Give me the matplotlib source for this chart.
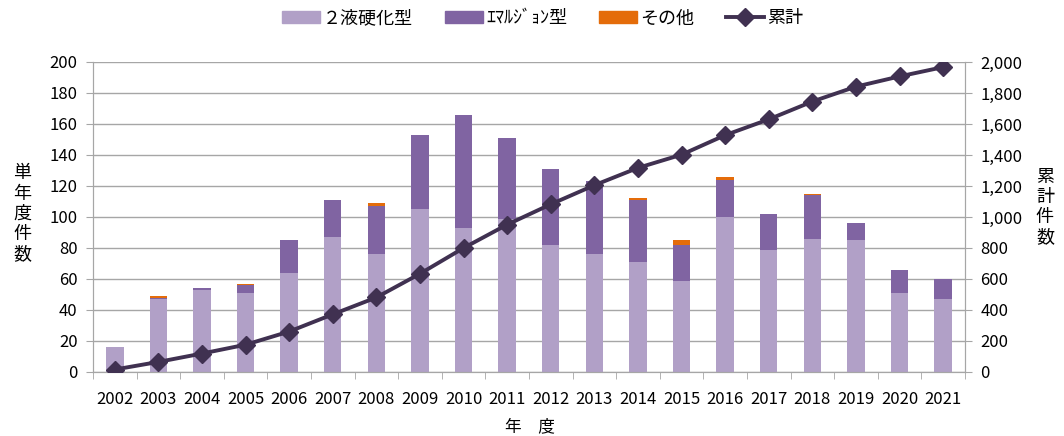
import matplotlib
matplotlib.use("Agg")
import matplotlib.pyplot as plt
from matplotlib.ticker import FuncFormatter, MultipleLocator
from matplotlib.patches import Patch
from matplotlib.lines import Line2D
import numpy as np

plt.rcParams['font.family'] = ['Noto Sans CJK JP', 'DejaVu Sans']

# data
years = [str(y) for y in range(2002, 2022)]
two_part = [16, 47, 53, 51, 64, 87, 76, 105, 93, 99, 82, 76, 71, 59, 100, 79, 86, 85, 51, 47]
emulsion = [0, 1, 1, 5, 21, 24, 31, 48, 73, 52, 49, 47, 40, 23, 24, 23, 28, 11, 15, 13]
other = [0, 1, 0, 1, 0, 0, 2, 0, 0, 0, 0, 0, 1, 3, 2, 0, 1, 0, 0, 0]
cumulative = [16, 65, 119, 176, 261, 372, 481, 634, 800, 951, 1082, 1205, 1317, 1402,
              1528, 1630, 1745, 1841, 1907, 1967]

c_two = '#B1A0C7'
c_emu = '#8064A2'
c_oth = '#E46C0A'
c_cum = '#403151'
grid_c = '#A6A6A6'

fig = plt.figure(figsize=(10.64, 4.36), dpi=100)
ax = fig.add_axes([0.0874, 0.1468, 0.8195, 0.711])
ax2 = ax.twinx()

x = np.arange(len(years))
w = 0.4
b1 = np.array(two_part)
b2 = b1 + np.array(emulsion)
ax.bar(x, two_part, w, color=c_two, zorder=2)
ax.bar(x, emulsion, w, bottom=b1, color=c_emu, zorder=2)
ax.bar(x, other, w, bottom=b2, color=c_oth, zorder=2)

ax2.plot(x, cumulative, color=c_cum, lw=2.8, marker='D', markersize=9.5, zorder=3)

ax.set_xlim(-0.5, len(years) - 0.5)
ax.set_ylim(0, 200)
ax2.set_ylim(0, 2000)
ax.yaxis.set_major_locator(MultipleLocator(20))
ax2.yaxis.set_major_locator(MultipleLocator(200))
ax2.yaxis.set_major_formatter(FuncFormatter(lambda v, p: f"{int(v):,}"))
ax.yaxis.grid(True, color=grid_c, lw=1.0, zorder=0)
ax.set_axisbelow(True)

ax.set_xticks(x)
ax.set_xticklabels(years)
ax.set_xticks(np.arange(-0.5, len(years), 1.0), minor=True)
ax.tick_params(axis='x', which='major', length=0, pad=14, labelsize=12)
ax.tick_params(axis='x', which='minor', length=5, color=grid_c)
ax.tick_params(axis='y', length=5, color=grid_c, labelsize=12, pad=6)
ax2.tick_params(axis='y', length=5, color=grid_c, labelsize=12, pad=6)

for a in (ax, ax2):
    a.spines['top'].set_visible(False)
    for s in ('left', 'right', 'bottom'):
        a.spines[s].set_color(grid_c)

fig.text(0.021, 0.51, "単\n年\n度\n件\n数", fontsize=13, ha='center', va='center', linespacing=1.15)
fig.text(0.982, 0.525, "累\n計\n件\n数", fontsize=13, ha='center', va='center', linespacing=1.15)
fig.text(0.498, 0.022, "年　度", fontsize=12, ha='center', va='center')

handles = [
    Patch(color=c_two, label='２液硬化型'),
    Patch(color=c_emu, label='ｴﾏﾙｼﾞｮﾝ型'),
    Patch(color=c_oth, label='その他'),
    Line2D([], [], color=c_cum, lw=2.8, marker='D', markersize=9, label='累計'),
]
fig.legend(handles=handles, loc='center', bbox_to_anchor=(0.51, 0.958), ncol=4,
           frameon=False, fontsize=13, handlelength=2.1, handleheight=0.6,
           columnspacing=1.75, handletextpad=0.2)

fig.savefig("out.png", dpi=100)
